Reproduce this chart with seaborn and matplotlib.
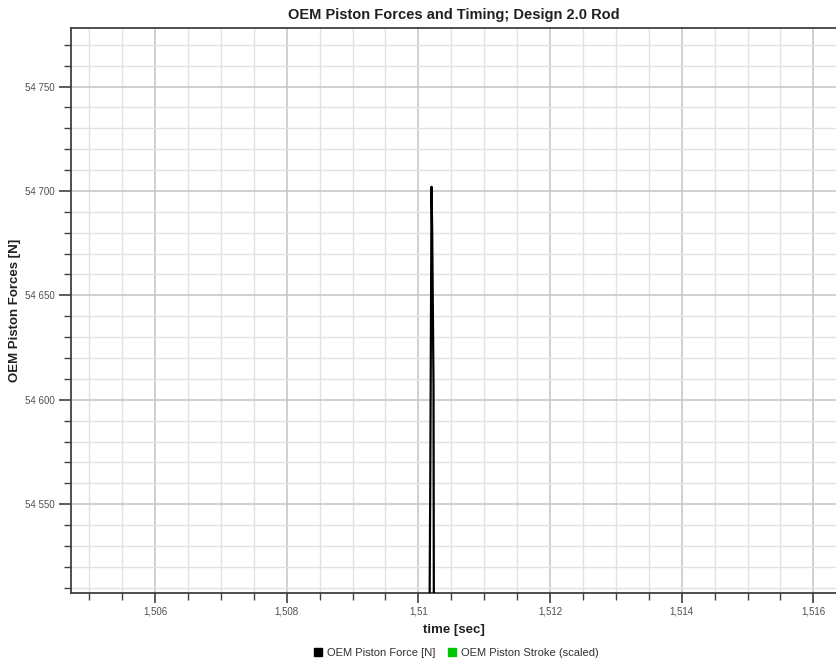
import matplotlib
matplotlib.use("Agg")
import matplotlib.pyplot as plt
import matplotlib.ticker as mticker
from matplotlib.lines import Line2D
import seaborn as sns
import pandas as pd

# Force trace around the spike (samples outside the view continue off-axis)
time_sec = [1.51015, 1.51018, 1.51020, 1.51021, 1.51023, 1.51024]
piston_force = [54380, 54558, 54702, 54680, 54606, 54390]

series_labels = ["OEM Piston Force [N]", "OEM Piston Stroke (scaled)"]
series_colors = ["#000000", "#00c800"]

title = "OEM Piston Forces and Timing; Design 2.0 Rod"
x_label = "time [sec]"
y_label = "OEM Piston Forces [N]"

x_limits = (1.504723, 1.516344)
y_limits = (54507.6, 54777.9)

sns.set_theme(style="white")
plt.rcParams["font.family"] = ["Liberation Sans", "DejaVu Sans"]

df = pd.DataFrame({"time": time_sec, "force": piston_force})

fig = plt.figure(figsize=(8.36, 6.64), dpi=100)
ax = fig.add_axes([71 / 836, 71.3 / 664, 765 / 836, 564.4 / 664])

sns.lineplot(data=df, x="time", y="force", color=series_colors[0],
             linewidth=1.6, ax=ax, legend=False, zorder=3)

ax.set_xlim(*x_limits)
ax.set_ylim(*y_limits)

# ticks
ax.xaxis.set_major_locator(mticker.MultipleLocator(0.002))
ax.xaxis.set_minor_locator(mticker.MultipleLocator(0.0005))
ax.yaxis.set_major_locator(mticker.MultipleLocator(50))
ax.yaxis.set_minor_locator(mticker.MultipleLocator(10))


def fmt_x(v, pos):
    s = f"{v:.3f}".rstrip("0").rstrip(".")
    return s.replace(".", ",")


def fmt_y(v, pos):
    return f"{v:,.0f}".replace(",", " ")


ax.xaxis.set_major_formatter(mticker.FuncFormatter(fmt_x))
ax.yaxis.set_major_formatter(mticker.FuncFormatter(fmt_y))

ax.tick_params(axis="both", which="major", direction="out", length=7,
               width=1.2, color="#404040", labelsize=7, labelcolor="#505050",
               bottom=True, left=True, top=False, right=False)
ax.tick_params(axis="x", which="major", pad=3)
ax.tick_params(axis="y", which="major", length=9, pad=3)
ax.tick_params(axis="both", which="minor", direction="out", length=5,
               width=1.0, color="#404040", bottom=True, left=True,
               top=False, right=False)

# grid: light minor lines, slightly darker major lines
ax.grid(which="minor", color="#e2e2e2", linewidth=1.0, zorder=0)
ax.grid(which="major", color="#c4c4c4", linewidth=1.1, zorder=0)
ax.set_axisbelow(True)

for side in ["left", "bottom", "top"]:
    ax.spines[side].set_visible(True)
    ax.spines[side].set_color("#404040")
    ax.spines[side].set_linewidth(1.3)
ax.spines["right"].set_visible(False)

ax.set_title(title, fontsize=10.5, fontweight="bold", color="#202020", pad=7)
ax.set_xlabel(x_label, fontsize=9.5, fontweight="bold", color="#202020",
              labelpad=5)
ax.set_ylabel(y_label, fontsize=9.5, fontweight="bold", color="#202020")
ax.yaxis.set_label_coords(-50 / 765, 0.5)

handles = [Line2D([0], [0], marker="s", linestyle="none", markersize=6,
                  markerfacecolor=c, markeredgecolor=c) for c in series_colors]
fig.legend(handles, series_labels, loc="center",
           bbox_to_anchor=(456 / 836, 11 / 664), ncol=2, frameon=False,
           fontsize=8, handletextpad=0.3, columnspacing=1.0,
           handlelength=1.0, labelcolor="#303030")

fig.savefig("out.png", dpi=100)
